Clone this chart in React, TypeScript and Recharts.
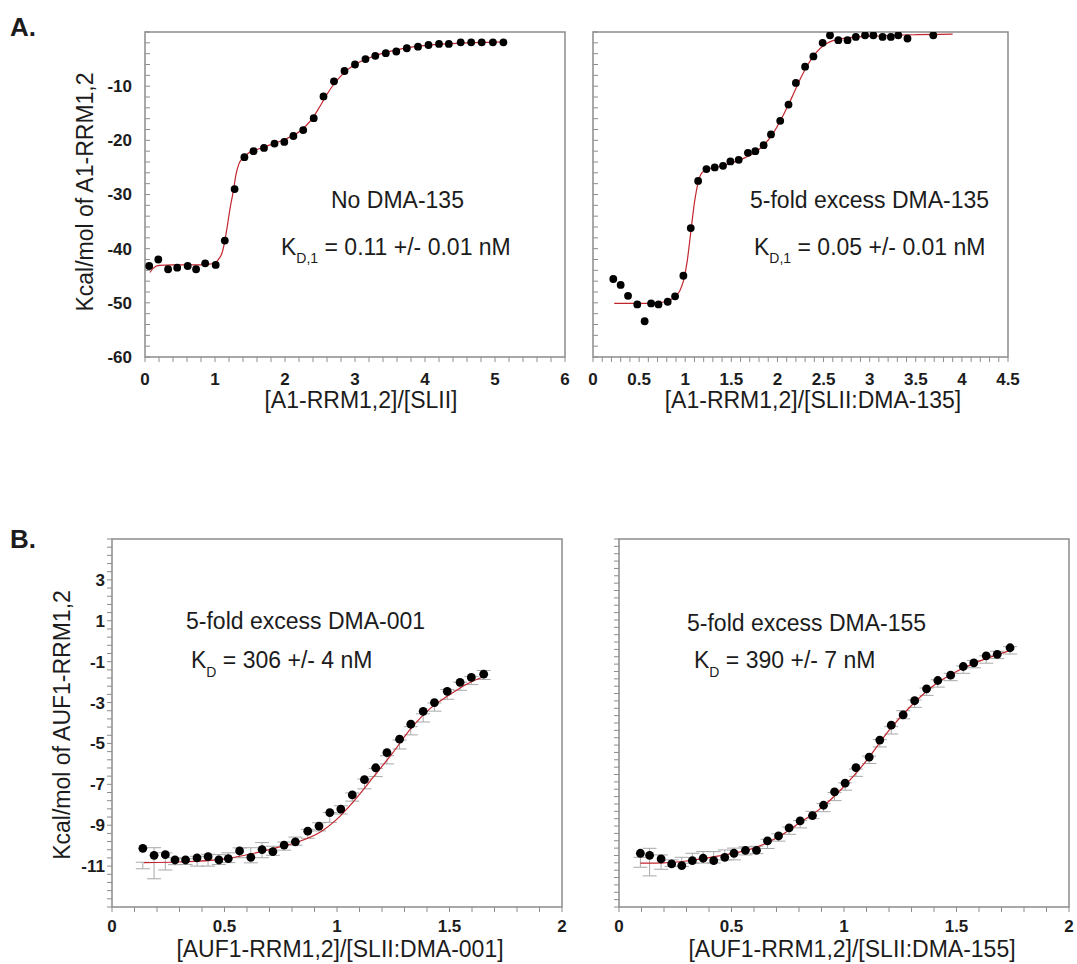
import React from 'react';
import { ComposedChart, Scatter, Line, XAxis, YAxis, ReferenceArea, ErrorBar } from 'recharts';

const FONT = '"Liberation Sans", Arial, Helvetica, sans-serif';
const GRAY = '#8c8c8c';
const ERR = '#a8a8a8';
const FIT = '#c3262e';
const INK = '#1c1c1c';

/* ── A, left: no DMA-135 ── */
const a1PtX = [0.06, 0.19, 0.33, 0.46, 0.61, 0.73, 0.86, 1.01, 1.14, 1.28, 1.42, 1.55, 1.7, 1.85, 1.99, 2.12, 2.26, 2.41, 2.55, 2.7, 2.85, 3.0, 3.15, 3.29, 3.44, 3.59, 3.74, 3.9, 4.05, 4.2, 4.34, 4.51, 4.66, 4.81, 4.97, 5.12];
const a1PtY = [-43.2, -42.0, -43.8, -43.5, -43.2, -43.8, -42.7, -43.0, -38.5, -29.0, -23.1, -22.0, -21.4, -20.6, -20.3, -19.2, -18.1, -15.9, -11.9, -9.1, -7.2, -6.0, -5.0, -4.4, -3.9, -3.6, -3.0, -2.7, -2.4, -2.2, -2.2, -1.9, -1.9, -1.9, -1.9, -1.9];
const a1FitX = [0.07, 0.12, 0.2, 0.4, 0.7, 0.9, 1.0, 1.06, 1.1, 1.14, 1.18, 1.22, 1.26, 1.3, 1.34, 1.4, 1.45, 1.6, 1.8, 2.0, 2.15, 2.3, 2.4, 2.5, 2.6, 2.7, 2.8, 2.9, 3.0, 3.2, 3.4, 3.6, 3.8, 4.0, 4.3, 4.6, 4.9, 5.12];
const a1FitY = [-44.4, -43.6, -43.1, -43.0, -43.0, -42.9, -42.6, -41.8, -40.8, -38.6, -35.5, -32.2, -29.5, -26.3, -24.4, -23.2, -22.6, -21.7, -20.8, -19.8, -18.9, -17.3, -15.8, -13.7, -11.5, -9.6, -8.1, -6.9, -6.0, -4.8, -3.9, -3.3, -2.8, -2.5, -2.2, -2.0, -1.9, -1.85];

/* ── A, right: 5-fold excess DMA-135 ── */
const a2PtX = [0.22, 0.3, 0.38, 0.48, 0.56, 0.63, 0.71, 0.81, 0.89, 0.98, 1.06, 1.14, 1.23, 1.32, 1.41, 1.49, 1.58, 1.68, 1.76, 1.85, 1.93, 2.03, 2.12, 2.2, 2.3, 2.39, 2.49, 2.57, 2.66, 2.76, 2.85, 2.95, 3.04, 3.14, 3.23, 3.31, 3.41, 3.69];
const a2PtY = [-45.6, -46.7, -48.7, -50.3, -53.4, -50.1, -50.3, -49.8, -48.8, -45.0, -36.2, -27.5, -25.3, -25.0, -24.7, -23.9, -23.6, -22.3, -22.0, -20.9, -18.9, -16.4, -13.4, -9.4, -6.4, -4.5, -2.0, -0.6, -1.5, -1.5, -0.9, -0.6, -0.6, -0.9, -0.9, -0.6, -1.2, -0.6];
const a2FitX = [0.23, 0.5, 0.7, 0.8, 0.88, 0.94, 0.98, 1.02, 1.06, 1.1, 1.14, 1.18, 1.25, 1.35, 1.5, 1.65, 1.75, 1.85, 1.95, 2.05, 2.15, 2.25, 2.33, 2.42, 2.5, 2.6, 2.75, 3.0, 3.5, 3.9];
const a2FitY = [-50.1, -50.1, -50.0, -49.7, -49.0, -47.8, -46.0, -42.5, -37.0, -31.5, -27.8, -26.0, -25.3, -24.9, -24.2, -23.2, -22.3, -20.9, -18.8, -15.8, -12.3, -8.6, -6.0, -3.8, -2.5, -1.6, -1.1, -0.8, -0.5, -0.4];

/* ── B, left: 5-fold excess DMA-001 ── */
const b1PtX = [0.137, 0.187, 0.237, 0.28, 0.327, 0.378, 0.427, 0.475, 0.517, 0.567, 0.617, 0.667, 0.715, 0.765, 0.815, 0.87, 0.92, 0.968, 1.017, 1.068, 1.122, 1.172, 1.222, 1.278, 1.328, 1.383, 1.433, 1.49, 1.547, 1.597, 1.652];
const b1PtY = [-10.13, -10.47, -10.44, -10.7, -10.7, -10.6, -10.54, -10.7, -10.63, -10.26, -10.57, -10.19, -10.29, -9.97, -9.81, -9.29, -9.04, -8.38, -8.21, -7.52, -6.77, -6.19, -5.45, -4.79, -4.06, -3.43, -3.0, -2.45, -2.01, -1.77, -1.61];
const b1ErrMid = [-10.97, -10.86, -10.77, -10.76, -10.78, -10.76, -10.71, -10.68, -10.59, -10.35, -10.47, -10.22, -10.25, -10.02, -9.78, -9.42, -9.08, -8.62, -8.25, -7.62, -6.98, -6.42, -5.8, -5.05, -4.38, -3.75, -3.22, -2.6, -2.2, -1.92, -1.65];
const b1ErrHalf = [0.16, 0.76, 0.42, 0.17, 0.14, 0.24, 0.29, 0.24, 0.24, 0.24, 0.37, 0.37, 0.22, 0.2, 0.2, 0.22, 0.2, 0.24, 0.2, 0.2, 0.24, 0.2, 0.2, 0.22, 0.2, 0.2, 0.2, 0.24, 0.2, 0.2, 0.22];
const b1FitX = [0.142, 0.3, 0.495, 0.662, 0.75, 0.828, 0.928, 0.995, 1.078, 1.162, 1.245, 1.328, 1.412, 1.495, 1.578, 1.662];
const b1FitY = [-10.83, -10.8, -10.66, -10.29, -10.05, -9.81, -9.32, -8.75, -7.78, -6.64, -5.5, -4.28, -3.31, -2.66, -2.09, -1.69];

/* ── B, right: 5-fold excess DMA-155 ── */
const b2PtX = [0.095, 0.136, 0.187, 0.234, 0.279, 0.326, 0.374, 0.421, 0.47, 0.511, 0.562, 0.611, 0.66, 0.709, 0.756, 0.805, 0.86, 0.909, 0.958, 1.005, 1.053, 1.112, 1.159, 1.21, 1.263, 1.314, 1.367, 1.417, 1.474, 1.53, 1.577, 1.632, 1.681, 1.738];
const b2PtY = [-10.08, -10.19, -10.39, -10.66, -10.75, -10.48, -10.35, -10.48, -10.3, -10.08, -9.92, -9.92, -9.41, -9.14, -8.7, -8.32, -8.03, -7.47, -6.74, -6.27, -5.42, -4.86, -3.93, -3.12, -2.56, -1.79, -1.14, -0.69, -0.4, 0.07, 0.27, 0.65, 0.73, 1.09];
const b2ErrMid = [-10.57, -10.56, -10.56, -10.62, -10.55, -10.35, -10.3, -10.3, -10.17, -10.12, -9.95, -9.9, -9.57, -9.22, -8.85, -8.5, -8.0, -7.6, -7.0, -6.45, -5.7, -5.0, -4.1, -3.4, -2.55, -1.95, -1.3, -0.85, -0.5, -0.1, 0.2, 0.45, 0.7, 0.95];
const b2ErrHalf = [0.27, 0.75, 0.39, 0.18, 0.25, 0.27, 0.31, 0.31, 0.27, 0.32, 0.22, 0.2, 0.25, 0.2, 0.2, 0.2, 0.2, 0.22, 0.22, 0.2, 0.2, 0.2, 0.2, 0.2, 0.22, 0.2, 0.2, 0.2, 0.2, 0.2, 0.2, 0.2, 0.2, 0.2];
const b2FitX = [0.095, 0.2, 0.3, 0.4, 0.5, 0.6, 0.7, 0.8, 0.9, 1.0, 1.1, 1.2, 1.3, 1.4, 1.5, 1.6, 1.74];
const b2FitY = [-10.62, -10.6, -10.5, -10.32, -10.1, -9.8, -9.25, -8.45, -7.6, -6.45, -5.05, -3.4, -2.05, -0.95, -0.2, 0.35, 0.95];

/* ── tick labels ── */
const a1XLabels = [0, 1, 2, 3, 4, 5, 6];
const a2XLabels = [0, 0.5, 1, 1.5, 2, 2.5, 3, 3.5, 4, 4.5];
const aYLabels = [-10, -20, -30, -40, -50, -60];
const bXLabels = [0, 0.5, 1, 1.5, 2];
const b1YLabels = [3, 1, -1, -3, -5, -7, -9, -11];

const steps = (lo: number, hi: number, st: number) => {
  const n = Math.round((hi - lo) / st);
  return Array.from({ length: n + 1 }, (_, i) => Math.round((lo + i * st) * 1000) / 1000);
};
const zip = (xs: number[], ys: number[]) => xs.map((x, i) => ({ x, y: ys[i] }));
const zipErr = (xs: number[], ys: number[], es: number[]) => xs.map((x, i) => ({ x, y: ys[i], e: es[i] }));
const has = (list: number[], v: number) => list.some((m) => Math.abs(m - v) < 1e-6);

type Pt = { x: number; y: number; e?: number };
type PanelProps = {
  w: number; h: number;
  margin: { top: number; right: number; bottom: number; left: number };
  xDom: [number, number]; yDom: [number, number];
  xTicks: number[]; xLabels: number[]; yTicks: number[]; yLabels: number[];
  yIn: boolean; yW: number; yGap: number; xGap: number;
  pts: Pt[]; fit: Pt[]; err?: Pt[]; r: number;
};

function Panel(p: PanelProps) {
  const tickFont = { fontFamily: FONT, fontSize: 17, fontWeight: 700, fill: INK };
  return (
    <ComposedChart width={p.w} height={p.h} margin={p.margin}>
      <XAxis type="number" dataKey="x" domain={p.xDom} ticks={p.xTicks} interval={0} allowDataOverflow
        height={40} axisLine={false} tickLine={{ stroke: GRAY, strokeWidth: 1 }} tickSize={5} tickMargin={p.xGap}
        tick={(t: any) => has(p.xLabels, t.payload.value)
          ? <text x={t.x} y={t.y} dy="0.71em" textAnchor="middle" style={tickFont}>{String(t.payload.value)}</text>
          : <g />} />
      <YAxis type="number" domain={p.yDom} ticks={p.yTicks} interval={0} allowDataOverflow
        width={p.yW} axisLine={false} tickLine={{ stroke: GRAY, strokeWidth: 1 }} tickSize={p.yIn ? -5 : 5} tickMargin={p.yGap}
        tick={(t: any) => has(p.yLabels, t.payload.value)
          ? <text x={t.x} y={t.y} dy="0.35em" textAnchor="end" style={tickFont}>{String(t.payload.value)}</text>
          : <g />} />
      <ReferenceArea x1={p.xDom[0]} x2={p.xDom[1]} y1={p.yDom[0]} y2={p.yDom[1]} fill="none" fillOpacity={0}
        stroke={GRAY} strokeWidth={1.5} ifOverflow="visible" />
      {p.err && (
        <Scatter data={p.err} dataKey="y" shape={() => <g />} isAnimationActive={false}>
          <ErrorBar dataKey="e" direction="y" width={7} stroke={ERR} strokeWidth={1} />
        </Scatter>
      )}
      <Line data={p.fit} dataKey="y" type="monotone" stroke={FIT} strokeWidth={1.2} dot={false} activeDot={false} isAnimationActive={false} />
      <Scatter data={p.pts} dataKey="y" fill="#000" isAnimationActive={false}
        shape={(s: any) => <circle cx={s.cx} cy={s.cy} r={p.r} fill="#000" />} />
    </ComposedChart>
  );
}

const txt = { fontFamily: FONT, fontSize: 23, fill: INK };

export default function App() {
  return (
    <div style={{ position: 'relative', width: 1077, height: 964, background: '#fff', overflow: 'hidden' }}>
      <style>{'body{margin:0}'}</style>
      <div style={{ position: 'absolute', left: 0, top: 0 }}>
        <Panel w={575} h={440} margin={{ top: 32, right: 10, bottom: 43, left: 85 }}
          xDom={[0, 6]} yDom={[-60, 0]} xTicks={steps(0, 6, 0.2)} xLabels={a1XLabels}
          yTicks={steps(-60, 0, 2)} yLabels={aYLabels} yIn yW={60} yGap={18} xGap={11}
          pts={zip(a1PtX, a1PtY)} fit={zip(a1FitX, a1FitY)} r={3.9} />
      </div>
      <div style={{ position: 'absolute', left: 575, top: 0 }}>
        <Panel w={502} h={440} margin={{ top: 32, right: 69, bottom: 43, left: 8 }}
          xDom={[0, 4.5]} yDom={[-60, 0]} xTicks={steps(0, 4.5, 0.1)} xLabels={a2XLabels}
          yTicks={steps(-60, 0, 2)} yLabels={[]} yIn yW={10} yGap={18} xGap={11}
          pts={zip(a2PtX, a2PtY)} fit={zip(a2FitX, a2FitY)} r={3.9} />
      </div>
      <div style={{ position: 'absolute', left: 0, top: 500 }}>
        <Panel w={580} h={464} margin={{ top: 39, right: 18, bottom: 17, left: 52 }}
          xDom={[0, 2]} yDom={[-13, 5]} xTicks={steps(0, 2, 0.1)} xLabels={bXLabels}
          yTicks={steps(-13, 5, 0.4)} yLabels={b1YLabels} yIn={false} yW={60} yGap={2} xGap={8}
          pts={zip(b1PtX, b1PtY)} fit={zip(b1FitX, b1FitY)} err={zipErr(b1PtX, b1ErrMid, b1ErrHalf)} r={4.4} />
      </div>
      <div style={{ position: 'absolute', left: 580, top: 500 }}>
        <Panel w={497} h={464} margin={{ top: 39, right: 8, bottom: 17, left: 29 }}
          xDom={[0, 2]} yDom={[-13, 7]} xTicks={steps(0, 2, 0.1)} xLabels={bXLabels}
          yTicks={steps(-13, 7, 0.4)} yLabels={[]} yIn={false} yW={10} yGap={2} xGap={8}
          pts={zip(b2PtX, b2PtY)} fit={zip(b2FitX, b2FitY)} err={zipErr(b2PtX, b2ErrMid, b2ErrHalf)} r={4.4} />
      </div>
      <svg width={1077} height={964} style={{ position: 'absolute', left: 0, top: 0, pointerEvents: 'none' }}>
        <g style={{ whiteSpace: 'pre' }}>
          <text x={10} y={36} style={{ fontFamily: FONT, fontSize: 26, fontWeight: 700, fill: INK }}>A.</text>
          <text x={10} y={548} style={{ fontFamily: FONT, fontSize: 26, fontWeight: 700, fill: INK }}>B.</text>

          <text x={93} y={192} textAnchor="middle" transform="rotate(-90 93 192)" style={txt}>Kcal/mol of A1-RRM1,2</text>
          <text x={70} y={725} textAnchor="middle" transform="rotate(-90 70 725)" style={txt}>Kcal/mol of AUF1-RRM1,2</text>

          <text x={361} y={408} textAnchor="middle" style={txt}>[A1-RRM1,2]/[SLII]</text>
          <text x={813} y={408} textAnchor="middle" style={txt}>[A1-RRM1,2]/[SLII:DMA-135]</text>
          <text x={340} y={957} textAnchor="middle" style={txt}>[AUF1-RRM1,2]/[SLII:DMA-001]</text>
          <text x={852} y={957} textAnchor="middle" style={txt}>[AUF1-RRM1,2]/[SLII:DMA-155]</text>

          <text x={331} y={208} style={txt}>No DMA-135</text>
          <text x={281} y={255} style={txt}>K<tspan fontSize={14} dy={8}>D,1</tspan><tspan dy={-8}>{' = 0.11 +/- 0.01 nM'}</tspan></text>

          <text x={750} y={208} style={txt}>5-fold excess DMA-135</text>
          <text x={754} y={255} style={txt}>K<tspan fontSize={14} dy={8}>D,1</tspan><tspan dy={-8}>{' = 0.05 +/- 0.01 nM'}</tspan></text>

          <text x={186} y={629} style={txt}>5-fold excess DMA-001</text>
          <text x={191} y={668} style={txt}>K<tspan fontSize={14} dy={9}>D</tspan><tspan dy={-9}>{' = 306 +/- 4 nM'}</tspan></text>

          <text x={687} y={631} style={txt}>5-fold excess DMA-155</text>
          <text x={694} y={668} style={txt}>K<tspan fontSize={14} dy={9}>D</tspan><tspan dy={-9}>{' = 390 +/- 7 nM'}</tspan></text>
        </g>
      </svg>
    </div>
  );
}
